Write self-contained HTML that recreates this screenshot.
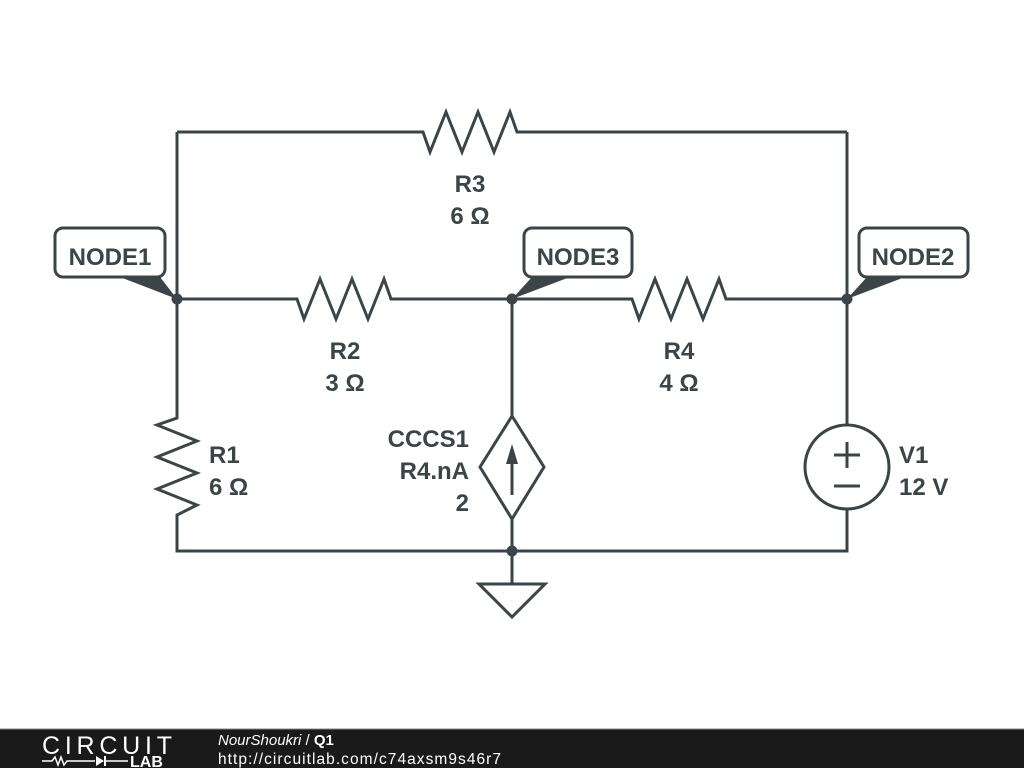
<!DOCTYPE html>
<html><head><meta charset="utf-8"><style>
body{margin:0;width:1024px;height:768px;background:#fff;overflow:hidden}
svg{display:block}
text{font-family:"Liberation Sans",Arial,sans-serif;font-weight:bold;fill:#3c4448}
</style></head><body>
<svg width="1024" height="768" viewBox="0 0 1024 768">
<g stroke="#3c4448" stroke-width="3" fill="none" stroke-linejoin="miter">
<polyline points="177,132 423,132 430,152 446,112 462,152 478,112 494,152 510,112 517,132 847,132"/>
<polyline points="177,299 297,299 304,319 320,279 336,319 352,279 368,319 384,279 391,299 632,299 639,319 655,279 671,319 687,279 703,319 719,279 726,299 847,299"/>
<polyline points="177,132 177,418 157,425 197,441 157,457 197,473 157,489 197,505 177,515 177,551 847,551 847,509"/>
<line x1="847" y1="132" x2="847" y2="425"/>
<line x1="512" y1="299" x2="512" y2="416"/>
<polygon points="512,416 544,467 512,519 480,467"/>
<line x1="512" y1="519" x2="512" y2="584"/>
<line x1="512" y1="452" x2="512" y2="495"/>
<polygon points="479,584 545,584 512,617"/>
<circle cx="847" cy="467" r="42"/>
<line x1="834" y1="455" x2="860" y2="455"/><line x1="847" y1="442" x2="847" y2="468"/>
<line x1="834" y1="486" x2="860" y2="486"/>
<rect x="55" y="228" width="110" height="49" rx="8" fill="#fff"/>
<rect x="524" y="228" width="108" height="49" rx="8" fill="#fff"/>
<rect x="859" y="228" width="109" height="49" rx="8" fill="#fff"/>
</g>
<g fill="#3c4448">
<polygon points="512,444 506,464 518,464"/>
<polygon points="120,277 160,277 177,299"/>
<polygon points="532,277 570,277 512,299"/>
<polygon points="867,277 905,277 847,299"/>
<circle cx="177" cy="299" r="5.5"/><circle cx="512" cy="299" r="5.5"/><circle cx="847" cy="299" r="5.5"/><circle cx="512" cy="551" r="5.5"/>
</g>
<g font-size="24">
<text x="110" y="265" text-anchor="middle">NODE1</text>
<text x="578" y="265" text-anchor="middle">NODE3</text>
<text x="913" y="265" text-anchor="middle">NODE2</text>
<text x="470" y="192" text-anchor="middle">R3</text>
<text x="470" y="224" text-anchor="middle">6 Ω</text>
<text x="345" y="359" text-anchor="middle">R2</text>
<text x="345" y="391" text-anchor="middle">3 Ω</text>
<text x="679" y="359" text-anchor="middle">R4</text>
<text x="679" y="391" text-anchor="middle">4 Ω</text>
<text x="209" y="463">R1</text>
<text x="209" y="495">6 Ω</text>
<text x="469" y="447" text-anchor="end">CCCS1</text>
<text x="469" y="479" text-anchor="end">R4.nA</text>
<text x="469" y="511" text-anchor="end">2</text>
<text x="899" y="463">V1</text>
<text x="899" y="495">12 V</text>
</g>
<rect x="0" y="729" width="1024" height="39" fill="#1a1a1a"/>
<line x1="0" y1="729" x2="1024" y2="729" stroke="#888" stroke-width="1"/>
<text x="42" y="754" font-size="25" textLength="130" style="font-weight:normal;fill:#fff">CIRCUIT</text>
<polyline points="42,761 52,761 55,757 58,765 61,757 64,765 67,761 95,761" stroke="#fff" stroke-width="1.5" fill="none"/>
<polygon points="96,756 96,766 104,761" fill="#fff"/><line x1="105" y1="756" x2="105" y2="766" stroke="#fff" stroke-width="2"/>
<line x1="105" y1="761" x2="128" y2="761" stroke="#fff" stroke-width="1.5"/>
<text x="130" y="767" font-size="16" style="fill:#fff">LAB</text>
<text x="218" y="745" font-size="15" style="font-weight:normal;font-style:italic;fill:#fff">NourShoukri <tspan style="font-style:normal">/</tspan> <tspan style="font-style:normal;font-weight:bold">Q1</tspan></text>
<text x="218" y="764" font-size="15.5" textLength="283" style="font-weight:normal;fill:#fff">http://circuitlab.com/c74axsm9s46r7</text>
</svg>
</body></html>
